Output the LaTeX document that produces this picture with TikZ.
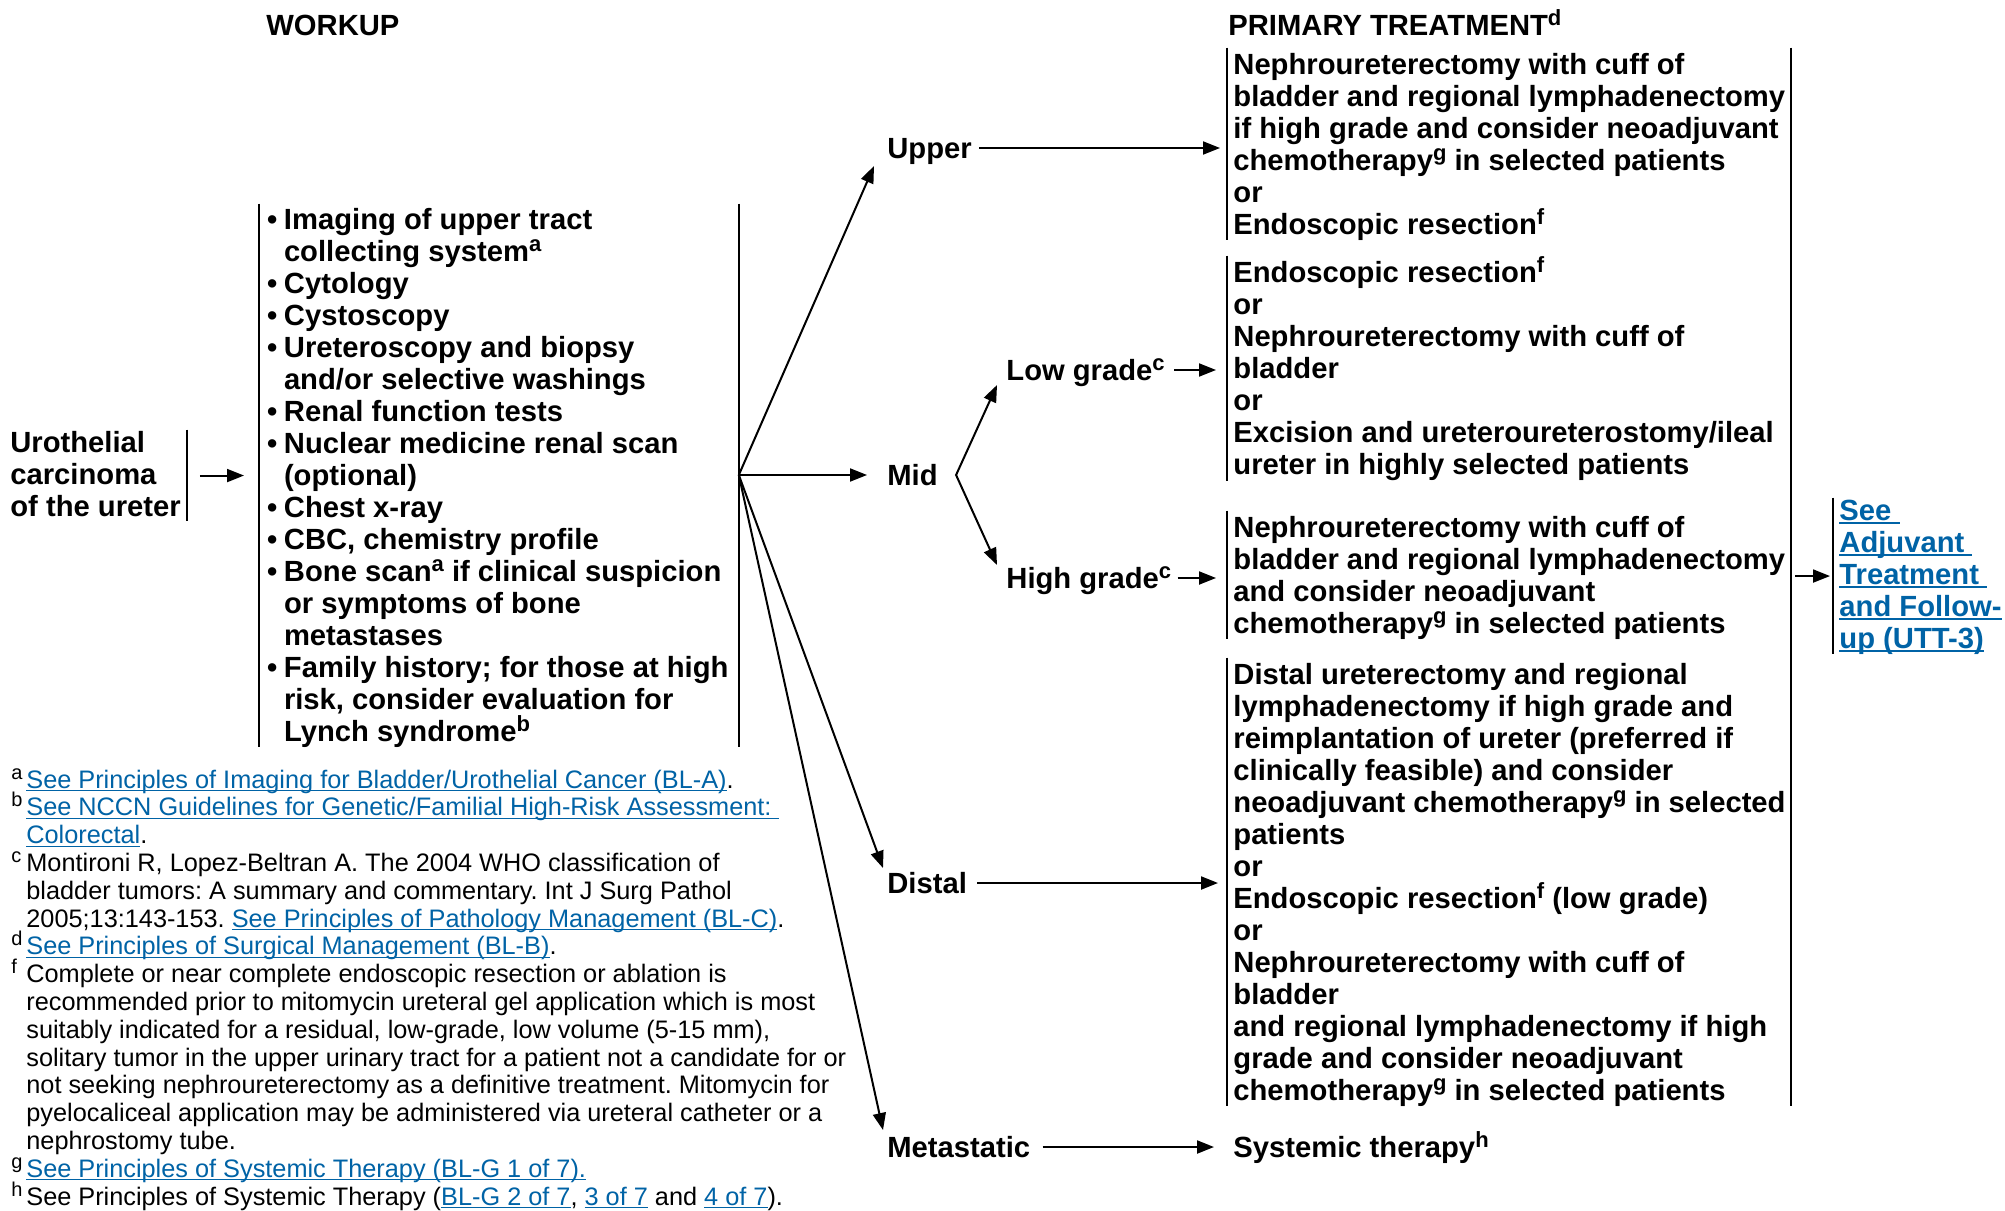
\documentclass[tikz,border=0pt]{standalone}
\usepackage{fontspec}
\setmainfont{Liberation Sans}
\usetikzlibrary{arrows.meta,calc}
\definecolor{linkc}{RGB}{0,99,166}
\frenchspacing
\newcommand\lnk[1]{\textcolor{linkc}{\setbox0\hbox{#1}\rlap{\rule[-1.6pt]{\wd0}{0.6pt}}\box0}}
\newcommand\lnkb[1]{\textcolor{linkc}{\setbox0\hbox{#1}\rlap{\rule[-1.9pt]{\wd0}{0.8pt}}\box0}}
\newcommand\sps[1]{\smash{\raisebox{4.8pt}{\fontsize{11pt}{11pt}\selectfont #1}}}
\newcommand\bxt[4]{\parbox[t]{#1}{\rule{0pt}{#2}#4\rule[-#3]{0pt}{#3}}}
\newcommand\bul{\makebox[8.5pt][l]{•}}
\newcommand\myind{\hspace*{8.5pt}}
\newcommand\fnm[1]{\makebox[7.5pt][l]{\smash{\raisebox{4.5pt}{\fontsize{10pt}{10pt}\selectfont #1}}}}
\newcommand\fnc{\hspace*{7.5pt}}
\begin{document}
\begin{tikzpicture}[x=0.5pt,y=-0.5pt,
  txt/.style={font=\fontsize{14.6pt}{16pt}\selectfont\bfseries, inner sep=0pt, anchor=base west},
  lbl/.style={txt, text height=10.5pt, text depth=0pt},
  bxs/.style={txt, inner xsep=3pt},
  fnt/.style={font=\fontsize{12.65pt}{13.9pt}\selectfont, inner sep=0pt, anchor=base west},
  arr/.style={line width=1pt, -{Triangle[length=8.5pt,width=6.5pt]}},
  arrboth/.style={line width=1pt, {Triangle[length=8.5pt,width=6.5pt]}-{Triangle[length=8.5pt,width=6.5pt]}},
  bar/.style={line width=1pt}]
\fill[white] (0,0) rectangle (2005,1210);
\useasboundingbox (0,0) rectangle (2005,1210);

% headers
\node[txt] (hwork) at (266,35) {WORKUP};
\node[txt] (hprim) at (1228,35) {PRIMARY TREATMENT\sps{d}};

% left boxes
\node[txt] (uro) at (10,452) {\bxt{88pt}{11pt}{2.5pt}{Urothelial\\carcinoma\\of the ureter}};
\node[txt, inner xsep=3.8pt] (wk) at (259,229) {\bxt{231.9pt}{12.5pt}{1pt}{%
\bul Imaging of upper tract\\
\myind collecting system\sps{a}\\
\bul Cytology\\
\bul Cystoscopy\\
\bul Ureteroscopy and biopsy\\
\myind and/or selective washings\\
\bul Renal function tests\\
\bul Nuclear medicine renal scan\\
\myind (optional)\\
\bul Chest x-ray\\
\bul CBC, chemistry profile\\
\bul Bone scan\sps{a} if clinical suspicion\\
\myind or symptoms of bone\\
\myind metastases\\
\bul Family history; for those at high\\
\myind risk, consider evaluation for\\
\myind Lynch syndrome\sps{b}}};

% branch labels
\node[lbl] (upper) at (887,158.5) {Upper};
\node[lbl] (mid) at (887,485.5) {Mid};
\node[lbl] (low) at (1006,380.5) {Low grade\sps{c}};
\node[lbl] (high) at (1006,588.5) {High grade\sps{c}};
\node[lbl] (distal) at (887,893.5) {Distal};
\node[lbl] (meta) at (887,1157.5) {Metastatic};

% treatment boxes
\node[bxs] (upbox) at (1227,74) {\bxt{290pt}{13pt}{0.5pt}{Nephroureterectomy with cuff of\\
bladder and regional lymphadenectomy\\
if high grade and consider neoadjuvant\\
chemotherapy\sps{g} in selected patients\\
or\\
Endoscopic resection\sps{f}}};
\node[bxs] (lowbox) at (1227,282) {\bxt{290pt}{13pt}{0.5pt}{Endoscopic resection\sps{f}\\
or\\
Nephroureterectomy with cuff of\\
bladder\\
or\\
Excision and ureteroureterostomy/ileal\\
ureter in highly selected patients}};
\node[bxs] (highbox) at (1227,537) {\bxt{290pt}{13pt}{0.5pt}{Nephroureterectomy with cuff of\\
bladder and regional lymphadenectomy\\
and consider neoadjuvant\\
chemotherapy\sps{g} in selected patients}};
\node[bxs] (distbox) at (1227,684) {\bxt{290pt}{13pt}{0.5pt}{Distal ureterectomy and regional\\
lymphadenectomy if high grade and\\
reimplantation of ureter (preferred if\\
clinically feasible) and consider\\
neoadjuvant chemotherapy\sps{g} in selected\\
patients\\
or\\
Endoscopic resection\sps{f} (low grade)\\
or\\
Nephroureterectomy with cuff of\\
bladder\\
and regional lymphadenectomy if high\\
grade and consider neoadjuvant\\
chemotherapy\sps{g} in selected patients}};
\node[lbl, inner xsep=3pt] (sys) at (1227,1157.5) {Systemic therapy\sps{h}};

% link box
\node[bxs] (link) at (1833,520) {\bxt{90pt}{11pt}{2.5pt}{\lnkb{See\ }\\
\lnkb{Adjuvant\ }\\
\lnkb{Treatment\ }\\
\lnkb{and Follow-}\\
\lnkb{up (UTT-3)}}};

% footnotes
\node[fnt] (fnotes) at (11,788) {\parbox[t]{440pt}{%
\fnm{a}\lnk{See Principles of Imaging for Bladder/Urothelial Cancer (BL-A)}.\\
\fnm{b}\lnk{See NCCN Guidelines for Genetic/Familial High-Risk Assessment:\ }\\
\fnc\lnk{Colorectal}.\\
\fnm{c}Montironi R, Lopez-Beltran A. The 2004 WHO classification of\\
\fnc bladder tumors: A summary and commentary. Int J Surg Pathol\\
\fnc 2005;13:143-153. \lnk{See Principles of Pathology Management (BL-C)}.\\
\fnm{d}\lnk{See Principles of Surgical Management (BL-B)}.\\
\fnm{f}Complete or near complete endoscopic resection or ablation is\\
\fnc recommended prior to mitomycin ureteral gel application which is most\\
\fnc suitably indicated for a residual, low-grade, low volume (5-15 mm),\\
\fnc solitary tumor in the upper urinary tract for a patient not a candidate for or\\
\fnc not seeking nephroureterectomy as a definitive treatment. Mitomycin for\\
\fnc pyelocaliceal application may be administered via ureteral catheter or a\\
\fnc nephrostomy tube.\\
\fnm{g}\lnk{See Principles of Systemic Therapy (BL-G 1 of 7).}\\
\fnm{h}See Principles of Systemic Therapy (\lnk{BL-G 2 of 7}, \lnk{3 of 7} and \lnk{4 of 7}).}};

% bars
\draw[bar] (uro.north east) -- (uro.south east);
\draw[bar] (wk.north west) -- (wk.south west);
\draw[bar] (wk.north east) -- (wk.south east);
\draw[bar] (upbox.north west) -- (upbox.south west);
\draw[bar] (lowbox.north west) -- (lowbox.south west);
\draw[bar] (highbox.north west) -- (highbox.south west);
\draw[bar] (distbox.north west) -- (distbox.south west);
\draw[bar] (link.north west) -- (link.south west);
\coordinate (bigx) at (1791,0);
\draw[bar] (upbox.north west -| bigx) -- (distbox.south west -| bigx);

% coordinates
\coordinate (br) at (wk.east |- mid.west);
\coordinate (mj) at ($(mid.east)+(18,0)$);
\coordinate (uptip) at (874,166);
\coordinate (distip) at (883,868);
\coordinate (metatip) at (883,1130);
\coordinate (lowtip) at (997,385);
\coordinate (hightip) at (997,565);

% connectors
\draw[arr, shorten <=6.5pt, shorten >=7.5pt] (wk.west -| uro.east) -- (wk.west);
\draw[arr] (br) -- (uptip);
\draw[arr, shorten >=10pt] (br) -- (mid.west);
\draw[arr] (br) -- (distip);
\draw[arr] (br) -- (metatip);
\draw[arrboth] (lowtip) -- (mj) -- (hightip);
\draw[arr, shorten <=3.5pt, shorten >=3.5pt] (upper.east) -- (upper.east -| upbox.west);
\draw[arr, shorten <=4.5pt, shorten >=5.5pt] (low.east) -- (low.east -| lowbox.west);
\draw[arr, shorten <=3pt, shorten >=5.5pt] (high.east) -- (high.east -| highbox.west);
\draw[arr, shorten <=5pt, shorten >=4.5pt] (distal.east) -- (distal.east -| distbox.west);
\draw[arr, shorten <=6pt, shorten >=6.5pt] (meta.east) -- (sys.west);
\draw[arr, shorten <=2pt, shorten >=1.5pt] (link.west -| bigx) -- (link.west);
\end{tikzpicture}
\end{document}
